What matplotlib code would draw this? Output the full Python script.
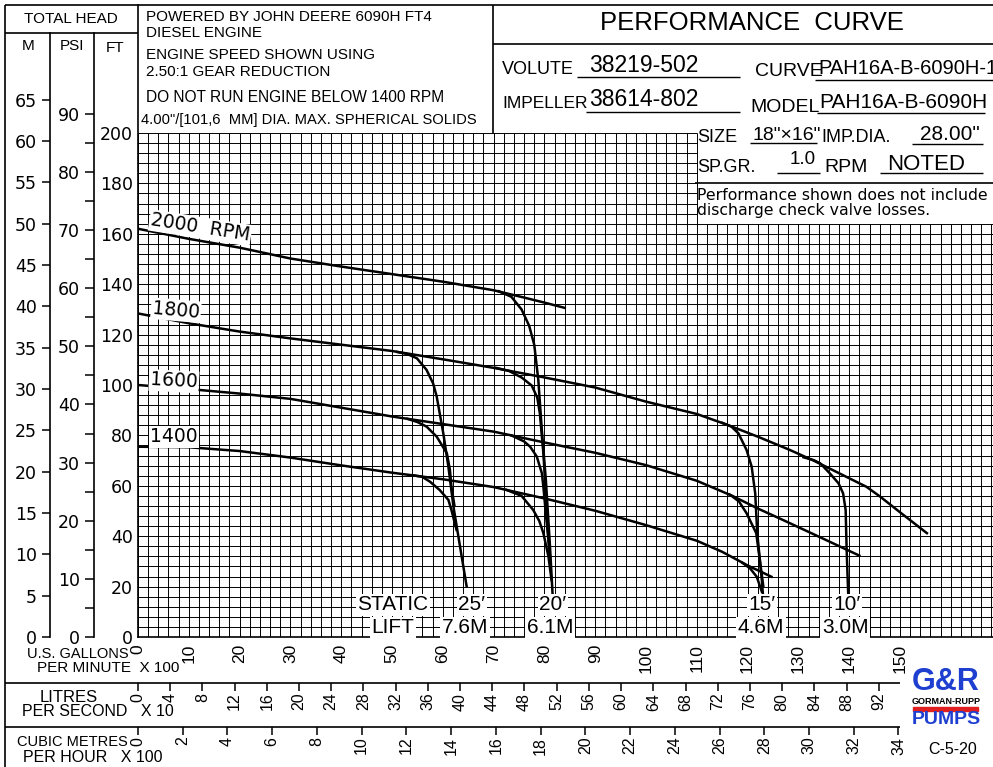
import numpy as np
import matplotlib
matplotlib.use("Agg")
import matplotlib.pyplot as plt

SANS = ['Liberation Sans', 'DejaVu Sans']
DEJA = ['DejaVu Sans']
plt.rcParams['font.family'] = SANS

# ---------------- data: total head (ft) vs flow (US GPM x 100) ----------------
q_2000 = [0, 10, 20, 30, 40, 50, 60, 70, 76, 80, 84]
h_2000 = [162, 158, 154.5, 150.2, 147, 144, 141, 137.6, 134.7, 132.7, 130.6]

q_1800 = [0, 10, 20, 30, 40, 50, 60, 70, 80, 90, 100, 110, 116, 122, 128, 133, 138, 143.4, 146.1, 150, 155.3]
h_1800 = [128.4, 124.5, 121.2, 118.5, 116, 113.5, 110.2, 106.8, 103, 99, 93.4, 88.5, 84.2, 79.5, 74.5, 70, 65, 59.6, 55.7, 49.5, 41.2]

q_1600 = [0, 10, 20, 30, 40, 50, 60, 70, 80, 90, 100, 110, 117, 122, 127, 135, 142]
h_1600 = [100, 98.4, 96.6, 94.5, 91, 87.5, 84.5, 81.5, 77.2, 73.1, 68.2, 62, 56, 51, 46.4, 38.9, 32.3]

q_1400 = [0, 10, 20, 30, 40, 50, 60, 70, 80, 90, 100, 110, 115, 120, 124.7]
h_1400 = [75.5, 75.3, 73.8, 71.2, 68.1, 65.2, 62.6, 59.5, 55, 50.1, 44.4, 38.2, 33.8, 28.4, 23.9]

# static lift (suction limit) branches
lift25_1800_q = [51, 53, 54.9, 56.8, 58.1, 58.8, 60.1, 61.1, 62.1, 63.4, 64.7]
lift25_1800_h = [113.1, 112.3, 110.6, 106, 100.6, 95.4, 80.8, 67.6, 51.7, 35.8, 20]
lift25_1600_q = [53, 55, 56.8, 58.8, 60.8, 61.4, 61.7, 62.3]
lift25_1600_h = [86.6, 85.3, 83.5, 79.5, 72.9, 66.3, 59.6, 52]
lift25_1400_q = [54, 55.9, 57.5, 59.4, 61.1, 61.7, 62.7]
lift25_1400_h = [64.2, 63.6, 61.6, 58.3, 54.4, 50.4, 42.5]

lift20_2000_q = [71, 73.5, 75.5, 77, 78, 78.8, 79.5, 80.3, 81.1, 81.6]
lift20_2000_h = [137.2, 135, 130, 123.5, 116, 102, 82, 62, 36, 17.3]
lift20_1800_q = [70.5, 73, 75.5, 77.5, 78.6, 79.1, 79.8, 80.5, 81.1]
lift20_1800_h = [106.8, 105.6, 103, 99.8, 95, 88.8, 72.9, 49.1, 30.6]
lift20_1600_q = [73.5, 76, 77.2, 78.5, 79.5, 79.8, 80.4, 81.1]
lift20_1600_h = [80, 77.6, 75.5, 71.6, 65, 59.6, 46.4, 31.9]
lift20_1400_q = [72.5, 75.5, 77.8, 79.0, 79.8, 80.8, 81.4]
lift20_1400_h = [58.4, 56, 50.4, 46, 41.2, 31.9, 22.6]

lift15_1800_q = [115, 116.8, 118.2, 119.8, 120.8, 121.5, 121.9, 122.8, 123]
lift15_1800_h = [85, 83.5, 80.8, 74.2, 67.6, 57, 41.2, 22.6, 17.3]
lift15_1600_q = [116.5, 118.3, 119.8, 121.7, 122.4, 123.1]
lift15_1600_h = [56.5, 53.8, 49.1, 41.2, 30.6, 20]
lift15_1400_q = [119, 120.5, 121.8, 122.8]
lift15_1400_h = [29.4, 27.2, 23.9, 18]

lift10_1800_q = [131, 133, 134.3, 136.2, 137.9, 138.8, 139.3, 139.5, 139.8]
lift10_1800_h = [71.3, 70.2, 68.9, 64.9, 61, 57, 50.4, 34.5, 17.3]

rpm_labels = ['2000  RPM', '1800', '1600', '1400']
rpm_label_q = [2.5, 2.8, 2.4, 2.4]
rpm_label_h = [165.5, 130.5, 102, 79.4]
rpm_label_rot = [-9, -5, -3, 0]

lift_top_labels = ['STATIC', "25\u2032", "20\u2032", "15\u2032", "10\u2032"]
lift_top_q = [50.2, 65.7, 81.7, 122.8, 139.6]
lift_bot_labels = ['LIFT', '7.6M', '6.1M', '4.6M', '3.0M']
lift_bot_q = [50.2, 64.4, 81.1, 122.6, 139.2]
lift_top_h, lift_bot_h = 12.7, 3.6

gpm_ticks = list(range(0, 151, 10))
ft_ticks = list(range(0, 201, 20))
m_ticks = list(range(0, 66, 5))
psi_ticks = list(range(0, 91, 10))
psi_minor = list(range(5, 90, 10))
ls_ticks = list(range(0, 93, 4))
m3h_ticks = list(range(0, 35, 2))

FT_PER_M = 3.28084
FT_PER_PSI = 2.30666
LS10_PER_GPM100 = 0.630902
M3H100_PER_GPM100 = 0.227125

# ---------------- figure ----------------
W, H = 993, 767
fig = plt.figure(figsize=(W / 100, H / 100), dpi=100)


def frac(x0, y0, x1, y1):
    return [x0 / W, 1 - y1 / H, (x1 - x0) / W, (y1 - y0) / H]


AX_X0, AX_X1, AX_Y0, AX_Y1 = 138, 993, 5, 637
PX_PER_Q, PX_PER_FT = 5.08, 2.52
ax = fig.add_axes(frac(AX_X0, AX_Y0, AX_X1, AX_Y1))
ax.set_xlim(0, (AX_X1 - AX_X0) / PX_PER_Q)
ax.set_ylim(0, (AX_Y1 - AX_Y0) / PX_PER_FT)
ax.spines['top'].set_visible(False)
ax.spines['right'].set_visible(False)
ax.spines['left'].set_linewidth(1.2)
ax.spines['bottom'].set_linewidth(1.2)

# grid
gx = np.arange(0, 170, 2)
gy = np.arange(0, 201, 4)
ax.vlines(gx, 0, np.where(gx <= 110, 200, 164), colors='k', lw=0.7, zorder=1)
ax.hlines(gy, 0, np.where(gy <= 164, 170, 110), colors='k', lw=0.7, zorder=1)

curves = [(q_2000, h_2000), (q_1800, h_1800), (q_1600, h_1600), (q_1400, h_1400),
          (lift25_1800_q, lift25_1800_h), (lift25_1600_q, lift25_1600_h), (lift25_1400_q, lift25_1400_h),
          (lift20_2000_q, lift20_2000_h), (lift20_1800_q, lift20_1800_h), (lift20_1600_q, lift20_1600_h),
          (lift20_1400_q, lift20_1400_h),
          (lift15_1800_q, lift15_1800_h), (lift15_1600_q, lift15_1600_h), (lift15_1400_q, lift15_1400_h),
          (lift10_1800_q, lift10_1800_h)]
for q, h in curves:
    ax.plot(q, h, color='k', lw=1.8, zorder=3, solid_joinstyle='round')

wbox = dict(facecolor='white', edgecolor='none', pad=1.0)
for s, q, h, r in zip(rpm_labels, rpm_label_q, rpm_label_h, rpm_label_rot):
    ax.text(q, h, s, fontsize=13.5, family=DEJA, ha='left', va='center', rotation=r,
            rotation_mode='anchor', bbox=wbox, zorder=4)
for s, q in zip(lift_top_labels, lift_top_q):
    ax.text(q, lift_top_h, s, fontsize=15, family=SANS, ha='center', va='center', bbox=wbox, zorder=4)
for s, q in zip(lift_bot_labels, lift_bot_q):
    ax.text(q, lift_bot_h, s, fontsize=15, family=SANS, ha='center', va='center', bbox=wbox, zorder=4)

ax.set_xticks(gpm_ticks, [str(v) for v in gpm_ticks], rotation=90, fontsize=12.5, family=SANS)
ax.tick_params(axis='x', length=0, pad=5)
ax.set_yticks(ft_ticks, [str(v) for v in ft_ticks], fontsize=12.5, family=DEJA)
ax.tick_params(axis='y', length=0, pad=3.5)

head_top_ft = (637 - 33) / PX_PER_FT
axw = AX_X1 - AX_X0
m_ax = ax.secondary_yaxis(-(AX_X0 - 50) / axw, functions=(lambda f: f / FT_PER_M, lambda m: m * FT_PER_M))
m_ax.set_ticks(m_ticks, [str(v) for v in m_ticks], fontsize=12.5, family=DEJA)
m_ax.tick_params(length=6, width=1.1, pad=3.5)
m_ax.spines['right'].set_visible(False)
m_ax.spines['left'].set_linewidth(1.2)
m_ax.spines['left'].set_bounds(0, head_top_ft / FT_PER_M)

p_ax = ax.secondary_yaxis(-(AX_X0 - 94) / axw, functions=(lambda f: f / FT_PER_PSI, lambda p: p * FT_PER_PSI))
p_ax.set_ticks(psi_ticks, [str(v) for v in psi_ticks], fontsize=12.5, family=DEJA)
p_ax.set_ticks(psi_minor, minor=True)
p_ax.tick_params(which='both', length=6.5, width=1.1, pad=3.5)
p_ax.spines['right'].set_visible(False)
p_ax.spines['left'].set_linewidth(1.2)
p_ax.spines['left'].set_bounds(0, head_top_ft / FT_PER_PSI)

axh = AX_Y1 - AX_Y0
ls_ax = ax.secondary_xaxis(-(683 - AX_Y1) / axh,
                           functions=(lambda q: q * LS10_PER_GPM100, lambda l: l / LS10_PER_GPM100))
ls_ax.set_ticks(ls_ticks, [str(v) for v in ls_ticks], rotation=90, fontsize=11.5, family=SANS)
ls_ax.tick_params(length=6, width=1.1, pad=1)
for sp in ls_ax.spines.values():
    sp.set_visible(False)

mh_ax = ax.secondary_xaxis(-(727 - AX_Y1) / axh,
                           functions=(lambda q: q * M3H100_PER_GPM100, lambda m: m / M3H100_PER_GPM100))
mh_ax.set_ticks(m3h_ticks, [str(v) for v in m3h_ticks], rotation=90, fontsize=11.5, family=SANS)
mh_ax.tick_params(length=6, width=1.1, pad=1)
for sp in mh_ax.spines.values():
    sp.set_visible(False)

# ---------------- overlay (frame, title block) ----------------
ov = fig.add_axes([0, 0, 1, 1], zorder=10)
ov.set_xlim(0, W)
ov.set_ylim(H, 0)
ov.axis('off')


def line(x0, y0, x1, y1, lw=1.2):
    ov.plot([x0, x1], [y0, y1], color='k', lw=lw, clip_on=False, solid_capstyle='butt')


def txt(x, y, s, size, ha='left', fam=SANS, **kw):
    ov.text(x, y, s, fontsize=size, ha=ha, va='center', family=fam, clip_on=False, **kw)


line(5, 5, 5, 767)
line(5, 5, 993, 5)
line(5, 33, 138, 33)
line(493, 5, 493, 133)
line(493, 44, 993, 44)
line(695, 183, 993, 183)
line(5, 683, 900, 683)
line(5, 727, 900, 727)

txt(71, 19, 'TOTAL HEAD', 11, ha='center')
txt(28, 46, 'M', 11, ha='center')
txt(72, 46, 'PSI', 11, ha='center')
txt(115, 48, 'FT', 11, ha='center')

txt(146, 17, 'POWERED BY JOHN DEERE 6090H FT4', 11)
txt(146, 33, 'DIESEL ENGINE', 11)
txt(146, 55, 'ENGINE SPEED SHOWN USING', 11)
txt(146, 72, '2.50:1 GEAR REDUCTION', 11)
txt(146, 97, 'DO NOT RUN ENGINE BELOW 1400 RPM', 11.2)
txt(141, 120, '4.00"/[101,6  MM] DIA. MAX. SPHERICAL SOLIDS', 10.6)

txt(752, 23, 'PERFORMANCE  CURVE', 18.5, ha='center')

txt(502, 70, 'VOLUTE', 13)
txt(589, 65, '38219-502', 16.5)
line(577, 77, 740, 77, lw=1.0)
txt(755, 72, 'CURVE', 14)
txt(818, 69, 'PAH16A-B-6090H-1', 14.5)
line(815, 80, 993, 80, lw=1.0)

txt(502, 103, 'IMPELLER', 12.5)
txt(589, 100, '38614-802', 16.5)
line(586, 112, 740, 112, lw=1.0)
txt(750, 107, 'MODEL', 14)
txt(819, 102, 'PAH16A-B-6090H', 15)
line(817, 113, 985, 113, lw=1.0)

txt(697, 138, 'SIZE', 13)
txt(752, 135, '18"\u00d716"', 14)
line(750, 143, 817, 143, lw=1.0)
txt(821, 138, 'IMP.DIA.', 13)
txt(920, 134, '28.00"', 15)
line(912, 144, 983, 144, lw=1.0)

txt(697, 167, 'SP.GR.', 13)
txt(790, 160, '1.0', 13.5)
line(777, 173, 820, 173, lw=1.0)
txt(824, 167, 'RPM', 14)
txt(887, 165, 'NOTED', 16)
line(880, 173, 983, 173, lw=1.0)

txt(697, 196, 'Performance shown does not include', 11.3, fam=DEJA)
txt(697, 211, 'discharge check valve losses.', 11.3, fam=DEJA)

txt(78, 654, 'U.S. GALLONS', 10.5, ha='center')
txt(37, 668, 'PER MINUTE  X 100', 11)
txt(69, 697, 'LITRES', 12, ha='center')
txt(22, 712, 'PER SECOND   X 10', 11.5)
txt(17, 742, 'CUBIC METRES', 10.5)
txt(23, 757, 'PER HOUR   X 100', 11.5)

# logo
txt(946, 682, 'G&R', 22, ha='center', color='#1e3fd0', fontweight='bold')
txt(946, 701, 'GORMAN-RUPP', 6.5, ha='center', fontweight='bold')
ov.add_patch(plt.Rectangle((913, 707), 65, 4, color='#e02020'))
txt(946, 719, 'PUMPS', 14, ha='center', color='#1e3fd0', fontweight='bold')
txt(953, 750, 'C-5-20', 11.5, ha='center')

fig.savefig('out.png', dpi=100)
